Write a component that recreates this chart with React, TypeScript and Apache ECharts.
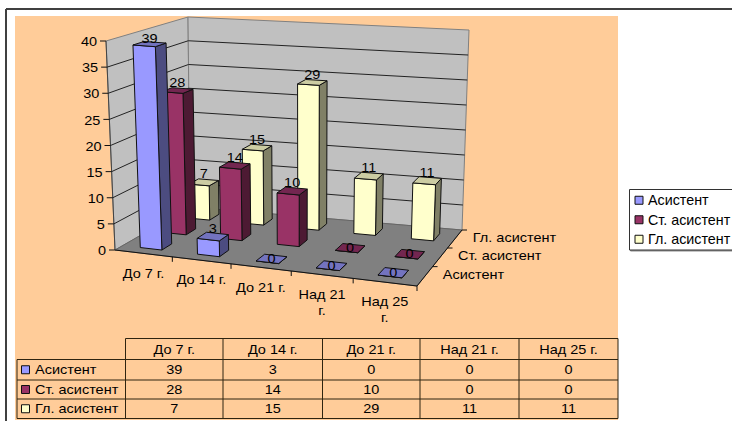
import React, { useEffect, useRef } from "react";
import * as echarts from "echarts";

const categories = ["До 7 г.", "До 14 г.", "До 21 г.", "Над 21 г.", "Над 25 г."];
const axisCategoryLabels = ["До 7 г.", "До 14 г.", "До 21 г.", "Над 21\nг.", "Над 25\nг."];
const seriesNames = ["Асистент", "Ст. асистент", "Гл. асистент"];
const asistent = [39, 3, 0, 0, 0];
const stAsistent = [28, 14, 10, 0, 0];
const glAsistent = [7, 15, 29, 11, 11];
const valueTicks = [0, 5, 10, 15, 20, 25, 30, 35, 40];

const FONT = '12.5px "Liberation Sans", Arial, sans-serif';
const INK = "#000";

type Pt = [number, number];
const plane = (p0: Pt, p1: Pt, p2: Pt, p3: Pt) => {
  const dx1 = p1[0] - p2[0], dy1 = p1[1] - p2[1];
  const dx2 = p3[0] - p2[0], dy2 = p3[1] - p2[1];
  const sx = p0[0] - p1[0] + p2[0] - p3[0], sy = p0[1] - p1[1] + p2[1] - p3[1];
  const det = dx1 * dy2 - dy1 * dx2;
  const g = (sx * dy2 - sy * dx2) / det;
  const h = (dx1 * sy - dy1 * sx) / det;
  return (u: number, d: number): Pt => {
    const w = g * u + h * d + 1;
    const hx = ((p1[0] - p0[0] + g * p1[0]) * u + (p3[0] - p0[0] + h * p3[0]) * d + p0[0]) / w;
    const hy = ((p1[1] - p0[1] + g * p1[1]) * u + (p3[1] - p0[1] + h * p3[1]) * d + p0[1]) / w;
    const bx = p0[0] + (p1[0] - p0[0]) * u + (p3[0] - p0[0]) * d + sx * u * d;
    const by = p0[1] + (p1[1] - p0[1]) * u + (p3[1] - p0[1]) * d + sy * u * d;
    return [hx * 0.35 + bx * 0.65, hy * 0.35 + by * 0.65];
  };
};
const floorPlane = plane([115, 250], [417, 286], [462, 230], [190, 207]);
const topPlane = plane([106, 41], [430, 66], [469, 30], [188, 17]);
const project = (u: number, d: number, t: number): Pt => {
  const a = floorPlane(u, d), b = topPlane(u, d);
  return [a[0] + (b[0] - a[0]) * t, a[1] + (b[1] - a[1]) * t];
};

const txt = (text: string, x: number, y: number, align = "center") => ({
  type: "text",
  x,
  y,
  scaleX: 1.16,
  silent: true,
  style: { text, x: 0, y: 0, align, verticalAlign: "middle", font: FONT, fill: INK, lineHeight: 16 },
});
const poly = (points: Pt[], fill: string, stroke = "#111", lineWidth = 1) => ({
  type: "polygon",
  shape: { points },
  style: { fill, stroke, lineWidth },
});
const seg = (a: Pt, b: Pt, stroke = "#222", lineWidth = 1) => ({
  type: "line",
  shape: { x1: a[0], y1: a[1], x2: b[0], y2: b[1] },
  style: { stroke, lineWidth, fill: "none" },
});

const barSeries = (name: string, values: number[], row: number, colors: string[], z: number) => ({
  type: "custom",
  name,
  z,
  silent: true,
  itemStyle: { color: colors[0] },
  encode: { x: 0, y: 1 },
  data: values.map((v, i) => [i, v]),
  renderItem: (params: any, api: any) => {
    const cs = params.coordSys;
    const v = api.value(1);
    const base = api.coord([api.value(0), 0]);
    const tip = api.coord([api.value(0), v]);
    const band = api.size([1, 0])[0];
    const uc = (base[0] - cs.x) / cs.width;
    const hw = (0.19 * band) / cs.width;
    const t = (base[1] - tip[1]) / cs.height;
    const u0 = uc - hw, u1 = uc + hw;
    const d0 = (row + 0.3) / 3, d1 = (row + 0.7) / 3;
    const fb0 = project(u0, d0, 0), fb1 = project(u1, d0, 0), bb1 = project(u1, d1, 0);
    const ft0 = project(u0, d0, t), ft1 = project(u1, d0, t), bt1 = project(u1, d1, t), bt0 = project(u0, d1, t);
    const cx = (ft0[0] + bt1[0]) / 2, cy = (ft0[1] + bt1[1]) / 2;
    const ly = v > 0 ? Math.max(cy - 8, 39) : cy;
    return {
      type: "group",
      children: [
        poly([fb1, bb1, bt1, ft1], colors[2]),
        poly([fb0, fb1, ft1, ft0], colors[0]),
        poly([ft0, ft1, bt1, bt0], colors[1]),
        txt(String(v), cx, ly),
      ],
    };
  },
});

const wallSeries = {
  type: "custom",
  name: "walls",
  z: 2,
  silent: true,
  encode: { x: 0, y: 1 },
  data: valueTicks.map((v) => [0, v]),
  renderItem: (params: any, api: any) => {
    const cs = params.coordSys;
    const v = api.value(1);
    const t = (cs.y + cs.height - api.coord([0, v])[1]) / cs.height;
    const a = project(0, 0, t), b = project(0, 1, t), c = project(1, 1, t);
    const tickStart: Pt = [a[0] - 6, a[1]];
    const children: any[] = [];
    if (v === 0) {
      const gray = "#808080";
      children.push(
        poly([project(0, 0, 0), project(0, 1, 0), project(0, 1, 1), project(0, 0, 1)], "#C0C0C0", gray),
        poly([project(0, 1, 0), project(1, 1, 0), project(1, 1, 1), project(0, 1, 1)], "#C0C0C0", gray),
        poly([project(0, 0, 0), project(1, 0, 0), project(1, 1, 0), project(0, 1, 0)], "#808080", "#666"),
        seg(project(0, 0, 0), project(1, 0, 0), "#111"),
        seg(project(1, 0, 0), project(1, 1, 0), "#111"),
        seg(project(0, 0, 0), project(0, 0, 1), "#444")
      );
    } else if (v < 40) {
      children.push(seg(a, b, "#222"), seg(b, c, "#222"));
    }
    children.push(seg(tickStart, a, "#111"));
    children.push(txt(String(v), a[0] - 9, a[1] + 1, "right"));
    return { type: "group", children };
  },
};

const categoryAxisSeries = {
  type: "custom",
  name: "categoryAxis",
  z: 3,
  silent: true,
  encode: { x: 0, y: 1 },
  data: categories.map((_, i) => [i, 0]),
  renderItem: (params: any, api: any) => {
    const cs = params.coordSys;
    const i = api.value(0);
    const base = api.coord([i, 0]);
    const band = api.size([1, 0])[0];
    const uc = (base[0] - cs.x) / cs.width;
    const uw = band / cs.width;
    const center = project(uc, 0, 0);
    const right = project(uc + uw / 2, 0, 0);
    const lines = axisCategoryLabels[i].split("\n");
    const children: any[] = [seg(right, [right[0], right[1] + 5], "#111")];
    lines.forEach((line, k) => children.push(txt(line, center[0], center[1] + 20 + k * 16)));
    return { type: "group", children };
  },
};

const rowAxisSeries = {
  type: "custom",
  name: "rowAxis",
  z: 3,
  silent: true,
  encode: { x: 0, y: 1 },
  data: seriesNames.map((_, k) => [0, k]),
  renderItem: (_params: any, api: any) => {
    const k = api.value(1);
    const center = project(1, (k + 0.5) / 3, 0);
    const edge = project(1, (k + 1) / 3, 0);
    return {
      type: "group",
      children: [
        seg(edge, [edge[0] + 5, edge[1]], "#111"),
        txt(seriesNames[k], center[0] + 18, center[1] - 1, "left"),
      ],
    };
  },
};

const seriesColors = [
  ["#9999FF", "#7373BF", "#4C4C80"],
  ["#993366", "#732650", "#4D1A33"],
  ["#FFFFCC", "#CCCCA3", "#808066"],
];

const tableX = [17, 125.5, 223, 322.5, 420, 519, 618];
const tableY = [338.5, 359.5, 380, 399, 418.5];
const tableRows = [asistent, stAsistent, glAsistent];

const buildGraphic = () => {
  const els: any[] = [
    { type: "rect", z: -5, shape: { x: 15, y: 16, width: 603, height: 404 }, style: { fill: "#FFCC99" } },
    seg([6, 9], [732, 9], "#404040", 2),
    seg([6, 9], [6, 421], "#404040", 2),
  ];
  const line = "#2E2410";
  els.push(seg([tableX[1], tableY[0]], [tableX[6], tableY[0]], line));
  for (let r = 1; r < tableY.length; r++) els.push(seg([tableX[0], tableY[r]], [tableX[6], tableY[r]], line));
  els.push(seg([tableX[0], tableY[1]], [tableX[0], tableY[4]], line));
  for (let c = 1; c < tableX.length; c++) els.push(seg([tableX[c], tableY[0]], [tableX[c], tableY[4]], line));
  categories.forEach((name, c) => els.push(txt(name, (tableX[c + 1] + tableX[c + 2]) / 2, 350)));
  tableRows.forEach((vals, r) => {
    const y = (tableY[r + 1] + tableY[r + 2]) / 2;
    els.push({
      type: "rect",
      shape: { x: 21.5, y: y - 4, width: 8, height: 8 },
      style: { fill: seriesColors[r][0], stroke: "#111", lineWidth: 1 },
    });
    els.push(txt(seriesNames[r], 35, y + 0.5, "left"));
    vals.forEach((v, c) => els.push(txt(String(v), (tableX[c + 1] + tableX[c + 2]) / 2, y + 0.5)));
  });
  return els.map((e) => ({ ...e, silent: true }));
};

export default function App() {
  const ref = useRef<HTMLDivElement>(null);
  useEffect(() => {
    document.body.style.margin = "0";
    const chart = echarts.init(ref.current!, null, { renderer: "svg" });
    chart.setOption({
      animation: false,
      backgroundColor: "#FFFFFF",
      grid: { left: 100, top: 20, width: 300, height: 200, show: false },
      xAxis: { type: "category", data: categories, show: false },
      yAxis: { type: "value", min: 0, max: 40, interval: 5, show: false },
      legend: {
        data: seriesNames,
        orient: "vertical",
        left: 629.5,
        top: 189.5,
        padding: [3, 20, 3, 5],
        itemWidth: 8,
        itemHeight: 8,
        itemGap: 4,
        icon: "rect",
        selectedMode: false,
        backgroundColor: "#FFFFFF",
        borderColor: "#333",
        borderWidth: 1,
        shadowColor: "rgba(0,0,0,0.45)",
        shadowOffsetX: 1,
        shadowOffsetY: 1,
        itemStyle: { borderColor: "#111", borderWidth: 1 },
        textStyle: { fontFamily: '"Liberation Sans", Arial, sans-serif', fontSize: 14.3, color: INK, lineHeight: 15.5 },
      },
      graphic: { elements: buildGraphic() },
      series: [
        wallSeries,
        categoryAxisSeries,
        rowAxisSeries,
        barSeries(seriesNames[2], glAsistent, 2, seriesColors[2], 4),
        barSeries(seriesNames[1], stAsistent, 1, seriesColors[1], 5),
        barSeries(seriesNames[0], asistent, 0, seriesColors[0], 6),
      ],
    });
    return () => chart.dispose();
  }, []);
  return <div ref={ref} style={{ position: "absolute", left: 0, top: 0, width: 732, height: 421 }} />;
}
